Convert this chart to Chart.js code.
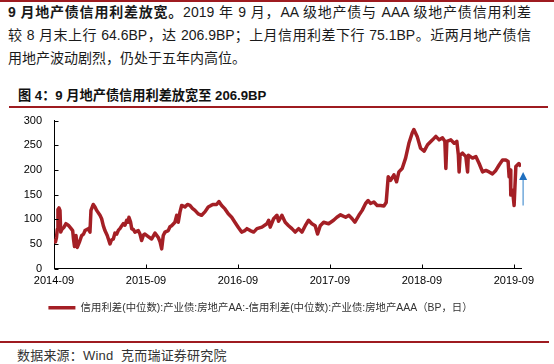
<!DOCTYPE html>
<html><head><meta charset="utf-8">
<script src="https://cdn.jsdelivr.net/npm/chart.js@4.4.1/dist/chart.umd.min.js"></script>
<style>
html,body{margin:0;padding:0;background:#fff;}
body{width:554px;height:364px;position:relative;overflow:hidden;font-family:"Liberation Sans","Noto Sans CJK SC",sans-serif;}
.rule{position:absolute;background:#9e1b20;}
.p{position:absolute;left:8px;width:523px;font-size:14px;color:#1a1a1a;line-height:23px;white-space:nowrap;}
.j{text-align:justify;text-align-last:justify;}
.cap{position:absolute;left:18px;top:87px;font-size:13.2px;font-weight:bold;color:#111;line-height:18px;white-space:nowrap;}
.src{position:absolute;left:17px;top:347px;font-size:13px;letter-spacing:0.2px;color:#333;line-height:18px;white-space:nowrap;}
#wrap{position:absolute;left:0;top:102px;width:554px;height:221px;}
</style></head>
<body>
<div class="rule" style="left:0;top:0;width:554px;height:2px;"></div>
<div class="p j" style="top:1px;"><b>9 月地产债信用利差放宽。</b>2019 年 9 月，AA 级地产债与 AAA 级地产债信用利差</div>
<div class="p j" style="top:24px;">较 8 月末上行 64.6BP，达 206.9BP；上月信用利差下行 75.1BP。近两月地产债信</div>
<div class="p" style="top:47px;">用地产波动剧烈，仍处于五年内高位。</div>
<div class="cap">图 4：9 月地产债信用利差放宽至 206.9BP</div>
<div class="rule" style="left:9px;top:106px;width:539px;height:2px;"></div>
<div id="wrap"><canvas id="c" width="554" height="221"></canvas></div>
<div class="rule" style="left:0;top:341px;width:549px;height:2px;"></div>
<div class="src">数据来源：Wind&nbsp; 克而瑞证券研究院</div>
<script>
// time in decimal years (2014-09-01 = 2014.667)
const years = [
2014.667,2014.683,2014.694,2014.703,2014.710,2014.721,2014.732,2014.740,2014.754,2014.776,
2014.797,2014.822,2014.849,2014.870,2014.879,2014.890,2014.906,2014.920,2014.942,2014.968,
2014.988,2015.004,2015.040,2015.058,2015.069,2015.094,2015.113,2015.131,2015.167,2015.185,
2015.203,2015.221,2015.246,2015.276,2015.292,2015.312,2015.330,2015.349,2015.368,2015.384,
2015.401,2015.420,2015.439,2015.457,2015.471,2015.482,2015.499,2015.512,2015.531,2015.547,
2015.583,2015.602,2015.620,2015.640,2015.656,2015.692,2015.729,2015.765,2015.801,2015.819,
2015.838,2015.855,2015.874,2015.909,2015.928,2015.946,2015.982,2016.001,2016.018,2016.037,
2016.055,2016.091,2016.118,2016.145,2016.172,2016.200,2016.235,2016.272,2016.308,2016.344,
2016.374,2016.399,2016.435,2016.460,2016.490,2016.526,2016.562,2016.599,2016.634,2016.670,
2016.707,2016.743,2016.765,2016.801,2016.838,2016.874,2016.928,2016.982,2017.001,2017.018,
2017.055,2017.091,2017.109,2017.145,2017.181,2017.218,2017.254,2017.290,2017.327,2017.363,
2017.399,2017.435,2017.471,2017.507,2017.533,2017.562,2017.599,2017.653,2017.707,2017.743,
2017.783,2017.838,2017.874,2017.909,2017.939,2017.982,2018.018,2018.055,2018.083,2018.109,
2018.145,2018.181,2018.218,2018.254,2018.279,2018.301,2018.327,2018.363,2018.392,2018.417,
2018.453,2018.490,2018.526,2018.562,2018.580,2018.616,2018.653,2018.692,2018.729,2018.783,
2018.819,2018.855,2018.892,2018.917,2018.928,2018.939,2018.982,2019.018,2019.047,2019.064,
2019.072,2019.083,2019.109,2019.145,2019.164,2019.172,2019.218,2019.254,2019.290,2019.327,
2019.363,2019.398,2019.435,2019.471,2019.507,2019.544,2019.580,2019.605,2019.616,2019.629,
2019.634,2019.653,2019.670,2019.689,2019.722,2019.745
];
// AA minus AAA real-estate credit spread (BP)
const spread = [
60,54,63,80,120,123,118,74,80,84,
91,88,82,77,60,45,67,43,53,67,
70,77,81,74,118,130,125,118,108,101,
87,77,67,50,58,60,72,70,78,81,
86,91,88,98,94,104,95,81,79,74,
77,70,57,68,70,65,60,72,63,55,
40,67,74,77,85,87,94,108,94,115,
128,125,130,128,122,118,111,108,115,125,
128,130,130,136,128,121,111,104,94,84,
74,77,81,77,74,81,84,91,98,84,
101,108,96,108,94,87,81,74,81,74,
87,98,91,87,70,87,94,91,98,104,
109,104,108,101,94,108,118,132,138,132,
135,128,128,127,134,186,179,190,176,196,
203,224,254,275,282,268,244,238,251,261,
268,261,265,258,203,258,261,254,258,230,
196,230,234,227,196,230,224,227,213,196,
199,196,192,199,210,220,220,217,186,200,
149,159,128,207,213,207
];
const tickYears = [2014.667,2015.667,2016.667,2017.667,2018.667,2019.667];
const tickLabels = ['2014-09','2015-09','2016-09','2017-09','2018-09','2019-09'];
const yTicks = [0,50,100,150,200,250,300];
const seriesName = '信用利差(中位数):产业债:房地产AA:-信用利差(中位数):产业债:房地产AAA（BP，日）';
// arrow annotation: at end of Sept 2019, from the low to the latest level
const arrowX = 2019.768, arrowFrom = 128, arrowTo = 196;

const RED = '#a41f25';
const extras = {
  id:'extras',
  afterDraw(chart){
    const {ctx, scales:{x,y}} = chart;
    ctx.save();
    ctx.strokeStyle = '#000'; ctx.lineWidth = 1;
    const x0 = Math.round(x.left) + 0.5, y0 = Math.round(y.bottom) - 0.5;
    yTicks.forEach(v=>{ const py = Math.round(y.getPixelForValue(v)) + 0.5; ctx.beginPath(); ctx.moveTo(x0, py); ctx.lineTo(x0+4, py); ctx.stroke(); });
    tickYears.forEach(v=>{ const px = Math.round(x.getPixelForValue(v)) + 0.5; ctx.beginPath(); ctx.moveTo(px, y0); ctx.lineTo(px, y0-4); ctx.stroke(); });
    // arrow
    const ax = x.getPixelForValue(arrowX), ay1 = y.getPixelForValue(arrowFrom), ay2 = y.getPixelForValue(arrowTo);
    ctx.strokeStyle = '#5b9bd5'; ctx.lineWidth = 1.3;
    ctx.beginPath(); ctx.moveTo(ax, ay1); ctx.lineTo(ax, ay2 + 7); ctx.stroke();
    ctx.fillStyle = '#1f6fbf';
    ctx.beginPath(); ctx.moveTo(ax, ay2); ctx.lineTo(ax-4, ay2+8); ctx.lineTo(ax+4, ay2+8); ctx.closePath(); ctx.fill();
    ctx.restore();
  }
};

new Chart(document.getElementById('c'), {
  type:'line',
  data:{ datasets:[{ label:seriesName, data: years.map((t,i)=>({x:t, y:spread[i]})), borderColor:RED, backgroundColor:RED, borderWidth:3.5, pointRadius:0, tension:0, fill:false, borderJoinStyle:'round' }]},
  options:{
    responsive:false, animation:false, devicePixelRatio:1,
    layout:{padding:{left:0,right:33,top:2,bottom:0}},
    plugins:{
      legend:{ position:'bottom', labels:{ usePointStyle:true, pointStyle:'line', pointStyleWidth:27, color:'#333', font:{family:'"Liberation Sans","Noto Sans CJK SC"', size:10.4}, padding:10 } },
      tooltip:{enabled:false}
    },
    scales:{
      x:{ type:'linear', min:2014.667, max:2019.745,
          grid:{display:false, drawTicks:false}, border:{display:true, color:'#000', width:1},
          ticks:{ padding:6, color:'#000', font:{family:'"Liberation Sans"', size:11}, maxRotation:0, autoSkip:false,
                  callback:(v,i)=>tickLabels[i] },
          afterBuildTicks:(s)=>{ s.ticks = tickYears.map(v=>({value:v})); },
          afterFit:(s)=>{ s.height = 24; } },
      y:{ min:0, max:300,
          grid:{display:false, drawTicks:false}, border:{display:true, color:'#000', width:1},
          ticks:{ stepSize:50, padding:12, color:'#000', font:{family:'"Liberation Sans"', size:11} },
          afterBuildTicks:(s)=>{ s.ticks = yTicks.map(v=>({value:v})); },
          afterFit:(s)=>{ s.width = 54; } }
    }
  },
  plugins:[extras]
});
</script>
</body></html>
